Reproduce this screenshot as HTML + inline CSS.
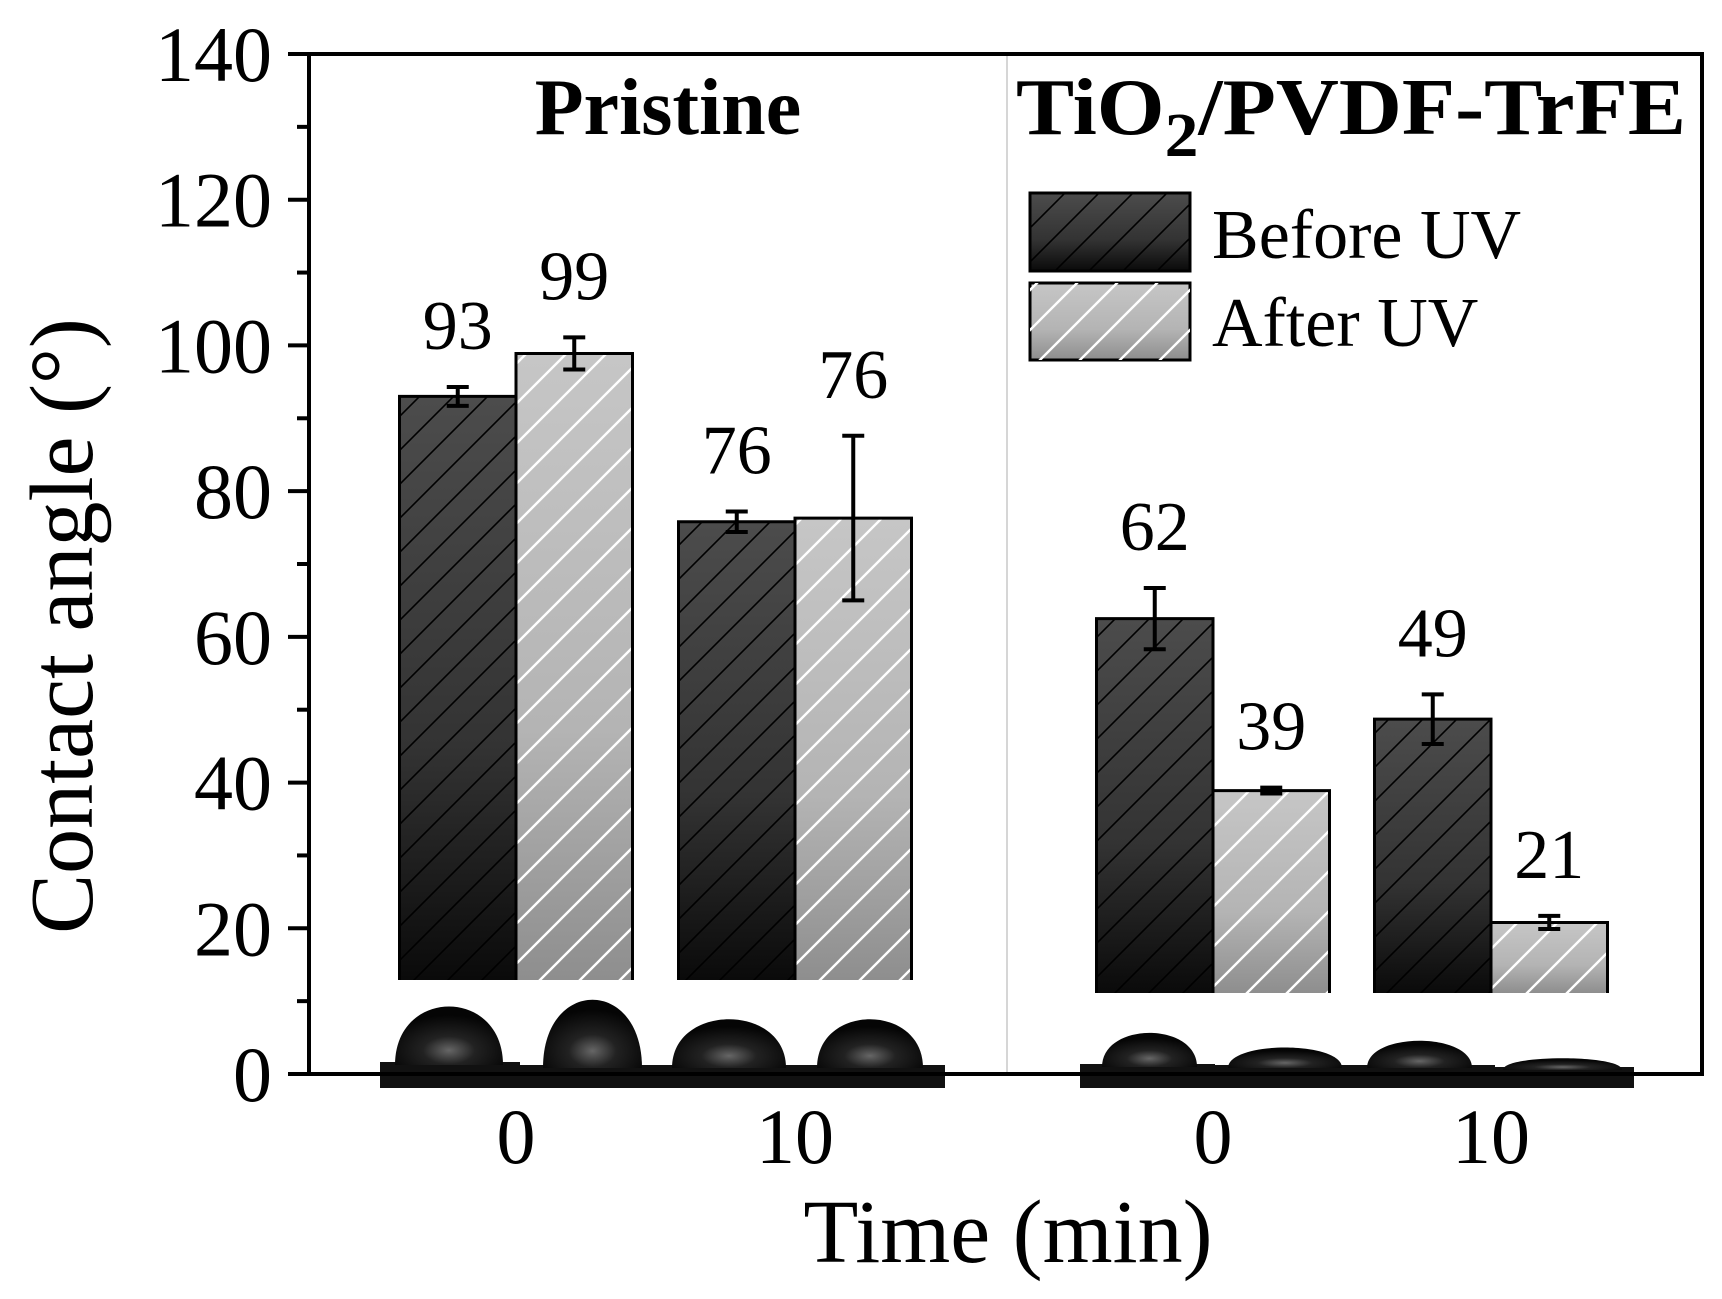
<!DOCTYPE html>
<html><head><meta charset="utf-8"><style>
html,body{margin:0;padding:0;background:#fff}
svg{display:block;font-family:"Liberation Serif",serif}
</style></head><body>
<svg id="chart" width="1722" height="1299" viewBox="0 0 1722 1299">
<defs>
<linearGradient id="gDark" x1="0" y1="0" x2="0" y2="1"><stop offset="0" stop-color="#4c4c4c"/><stop offset="0.6" stop-color="#333"/><stop offset="1" stop-color="#0a0a0a"/></linearGradient>
<linearGradient id="gLight" x1="0" y1="0" x2="0" y2="1"><stop offset="0" stop-color="#c6c6c6"/><stop offset="0.6" stop-color="#b4b4b4"/><stop offset="1" stop-color="#8e8e8e"/></linearGradient>
<pattern id="hDark" width="34" height="34" patternUnits="userSpaceOnUse"><path d="M-5,39 L39,-5 M-22,22 L22,-22 M12,56 L56,12" stroke="#000" stroke-width="1.6"/></pattern>
<pattern id="hLight" width="40" height="40" patternUnits="userSpaceOnUse"><path d="M-5,45 L45,-5 M-25,25 L25,-25 M15,65 L65,15" stroke="#fff" stroke-width="2.4"/></pattern>
<radialGradient id="drop" cx="0.5" cy="0.75" r="0.6"><stop offset="0" stop-color="#666"/><stop offset="0.4" stop-color="#222"/><stop offset="1" stop-color="#050505"/></radialGradient>
</defs>
<g id="plot"></g>
</svg>
<script>
const categories = ["P-0","P-10","T-0","T-10"];
const beforeUV = [93, 75.8, 62.5, 48.7];
const afterUV = [98.9, 76.3, 38.9, 20.8];
const beforeErr = [1.3, 1.4, 4.2, 3.4];
const afterErr = [2.2, 11.3, 0.4, 0.9];
const beforeLabels = ["93","76","62","49"];
const afterLabels = ["99","76","39","21"];
const xTickLabels = ["0","10","0","10"];
const yTicks = [0,20,40,60,80,100,120,140];

const NS = "http://www.w3.org/2000/svg";
const plot = document.getElementById("plot");
const X0 = 309, X1 = 1702, Y0 = 1074, YT = 54;
function y(v){ return Y0 - (v/140)*(Y0-YT); }
const groupCenters = [516, 795, 1213, 1491];
const barW = 116.5;
const barBottoms = [980, 980, 993, 993];
function gx(i){ return groupCenters[i]; }
function mk(tag, attrs, parent){ const e=document.createElementNS(NS,tag); for(const k in attrs) e.setAttribute(k,attrs[k]); (parent||plot).appendChild(e); return e; }

// divider
const dv = mk("line",{x1:1007,y1:YT,x2:1007,y2:Y0,stroke:"#c8c8c8","stroke-width":1.5});



// droplet images
const drops = [[380,520,395,503,1005,1065],[520,656,543,642,998,1068],[656,799,672,786,1018,1068],[799,945,817,923,1018,1068],
 [1080,1215,1102,1197,1032,1067],[1215,1348,1228,1342,1047,1068],[1348,1495,1367,1472,1040,1068],[1495,1634,1503,1622,1058,1070]];
drops.forEach((d,i)=>{
  const g = mk("g",{});
  
  
  mk("rect",{x:d[0],y:d[5]-3,width:d[1]-d[0],height:1088-d[5]+3,fill:"#111"},g);
  const rx=(d[3]-d[2])/2, cx=(d[2]+d[3])/2, h=d[5]-d[4];
  mk("path",{d:`M${d[2]},${d[5]} C${d[2]},${d[4]-h*0.3} ${d[3]},${d[4]-h*0.3} ${d[3]},${d[5]} Z`,fill:"url(#drop)"},g);
});

function bar(x, top, bottom, fill, hatch, name){
  const g = mk("g",{});
  
  
  mk("rect",{x:x,y:top,width:barW,height:bottom-top,fill:fill},g);
  mk("rect",{x:x,y:top,width:barW,height:bottom-top,fill:hatch},g);
  mk("path",{d:`M${x},${bottom} V${top} H${x+barW} V${bottom}`,fill:"none",stroke:"#000","stroke-width":3},g);
}
function err(cx, v, e){
  const g = mk("g",{stroke:"#000","stroke-width":4});
  
  
  mk("line",{x1:cx,y1:y(v+e),x2:cx,y2:y(v-e)},g);
  mk("line",{x1:cx-11,y1:y(v+e),x2:cx+11,y2:y(v+e)},g);
  mk("line",{x1:cx-11,y1:y(v-e),x2:cx+11,y2:y(v-e)},g);
}
function label(cx, v, e, t){
  const tx = mk("text",{x:cx,y:y(v+e)-38,"text-anchor":"middle","font-size":70});
  tx.textContent=t;
  
  
}
categories.forEach((c,i)=>{
  const cx=gx(i);
  bar(cx-barW, y(beforeUV[i]), barBottoms[i], "url(#gDark)", "url(#hDark)", "bar-before-"+c);
  bar(cx, y(afterUV[i]), barBottoms[i], "url(#gLight)", "url(#hLight)", "bar-after-"+c);
  err(cx-barW/2, beforeUV[i], beforeErr[i]);
  err(cx+barW/2, afterUV[i], afterErr[i]);
  label(cx-barW/2, beforeUV[i], beforeErr[i], beforeLabels[i]);
  label(cx+barW/2, afterUV[i], afterErr[i], afterLabels[i]);
  const xl = mk("text",{x:cx,y:1163,"text-anchor":"middle","font-size":78});
  xl.textContent = xTickLabels[i];
  
  
});

// frame
const fr = mk("rect",{x:X0,y:YT,width:X1-X0,height:Y0-YT,fill:"none",stroke:"#000","stroke-width":4});


for(let v=0; v<=140; v+=10){
  const major = v%20===0;
  const t = mk("line",{x1:major?288:297,y1:y(v),x2:X0,y2:y(v),stroke:"#000","stroke-width":4});
  
  
}
yTicks.forEach(v=>{
  const t = mk("text",{x:272,y:y(v)+27,"text-anchor":"end","font-size":78});
  t.textContent = v;
  
  
});
</script>
<svg width="0" height="0"></svg>
<div style="position:absolute;left:0;top:0;width:1722px;height:1299px;pointer-events:none">
<svg width="1722" height="1299" style="font-family:'Liberation Serif',serif">
<text x="668" y="134" text-anchor="middle" font-size="80" font-weight="bold">Pristine</text>
<text x="1016" y="134" font-size="80" font-weight="bold" textLength="670" lengthAdjust="spacingAndGlyphs">TiO<tspan dy="22" font-size="62">2</tspan><tspan dy="-22">/PVDF-TrFE</tspan></text>
<g>
<rect x="1030" y="193" width="160" height="78" fill="url(#gDark)" stroke="#000" stroke-width="3"/>
<rect x="1030" y="193" width="160" height="78" fill="url(#hDark)"/>
<rect x="1030" y="283" width="160" height="77" fill="url(#gLight)" stroke="#000" stroke-width="3"/>
<rect x="1030" y="283" width="160" height="77" fill="url(#hLight)"/>
<text x="1212" y="258" font-size="70">Before UV</text>
<text x="1212" y="346" font-size="70">After UV</text>
</g>
<text transform="translate(92,626) rotate(-90)" text-anchor="middle" font-size="90">Contact angle (°)</text>
<text x="1008" y="1262" text-anchor="middle" font-size="90">Time (min)</text>
</svg>
</div>
</body></html>
